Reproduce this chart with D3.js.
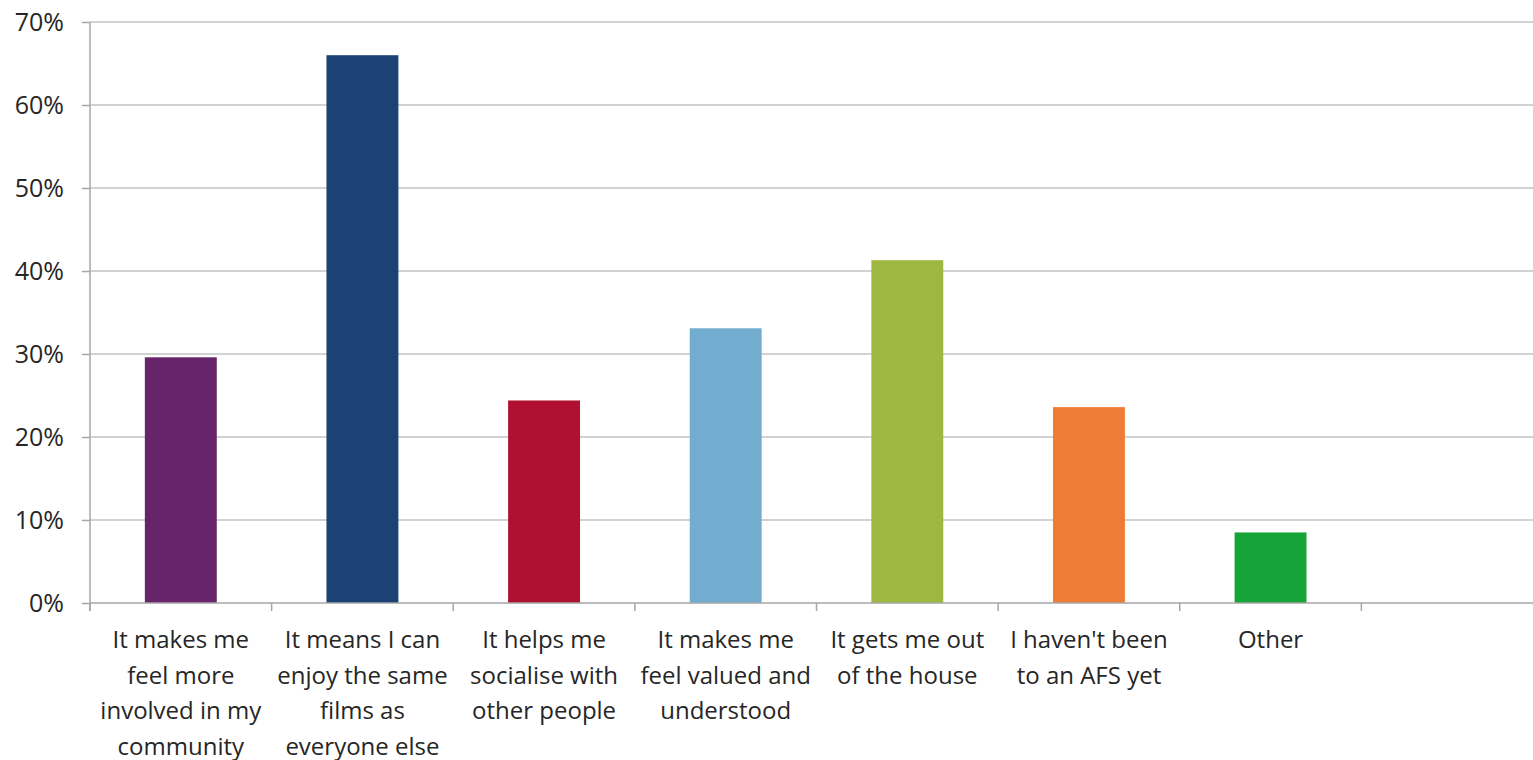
<!DOCTYPE html>
<html><head><meta charset="utf-8">
<script src="https://cdn.jsdelivr.net/npm/d3@7"></script>
<style>body{margin:0;background:#fff}svg{display:block}text{font-family:"Open Sans","Liberation Sans",sans-serif;fill:#262626}</style>
</head><body><svg id="c" width="1533" height="760"></svg>
<script>
const categories = [
  "It makes me|feel more|involved in my|community",
  "It means I can|enjoy the same|films as|everyone else",
  "It helps me|socialise with|other people",
  "It makes me|feel valued and|understood",
  "It gets me out|of the house",
  "I haven't been|to an AFS yet",
  "Other",
  ""
];
const values = [29.6, 66.0, 24.4, 33.1, 41.3, 23.6, 8.5, null];
const colors = ["#68246A", "#1C4175", "#B01032", "#72ADCF", "#9EB740", "#EE7C36", "#16A338", "none"];
const yTicks = [0, 10, 20, 30, 40, 50, 60, 70];

const svg = d3.select("#c");
const m = {left: 90, right: 1543, top: 22, bottom: 603};
const x = d3.scaleBand().domain(categories.map((d, i) => i)).range([m.left, m.right]).paddingInner(0.604).paddingOuter(0.302);
const y = d3.scaleLinear().domain([0, 70]).range([m.bottom, m.top]);
const step = x.step();

// gridlines
svg.append("g").selectAll("line").data(yTicks.filter(t => t > 0)).join("line")
  .attr("x1", m.left).attr("x2", m.right)
  .attr("y1", d => y(d)).attr("y2", d => y(d))
  .attr("stroke", "#A6A6A6").attr("stroke-width", 1.2);

// y axis
const yAxis = d3.axisLeft(y).tickValues(yTicks).tickFormat(d => d + "%").tickSize(8).tickPadding(18);
const ga = svg.append("g").attr("transform", `translate(${m.left},0)`).call(yAxis);
ga.select(".domain").remove();
ga.selectAll("line").attr("stroke", "#A6A6A6").attr("stroke-width", 1.5);
ga.selectAll("text").attr("font-size", 25).attr("fill", "#262626").style("font-family", '"Open Sans","Liberation Sans",sans-serif');
svg.append("line").attr("x1", m.left).attr("x2", m.left).attr("y1", y(70)).attr("y2", y(0) + 8)
  .attr("stroke", "#A6A6A6").attr("stroke-width", 1.5);

// bars
svg.append("g").selectAll("rect").data(values.map((v, i) => ({v, i})).filter(d => d.v != null)).join("rect")
  .attr("x", d => x(d.i)).attr("width", x.bandwidth())
  .attr("y", d => y(d.v)).attr("height", d => y(0) - y(d.v))
  .attr("fill", d => colors[d.i]);

// x axis baseline
svg.append("line").attr("x1", m.left).attr("x2", m.right).attr("y1", y(0)).attr("y2", y(0))
  .attr("stroke", "#A6A6A6").attr("stroke-width", 1.5);
// x ticks at band boundaries
const bounds = categories.map((d, i) => x(i) - step * x.paddingInner() / 2);
svg.append("g").selectAll("line").data(bounds).join("line")
  .attr("x1", d => d).attr("x2", d => d).attr("y1", y(0)).attr("y2", y(0) + 8)
  .attr("stroke", "#A6A6A6").attr("stroke-width", 1.5);

// x labels
const lbl = svg.append("g").selectAll("text").data(categories).join("text")
  .attr("text-anchor", "middle").attr("font-size", 24)
  .attr("transform", (d, i) => `translate(${x(i) + x.bandwidth() / 2},648)`);
lbl.selectAll("tspan").data(d => d ? d.split("|") : []).join("tspan")
  .attr("x", 0).attr("dy", (d, j) => j === 0 ? 0 : 35.5).text(d => d);
</script></body></html>
